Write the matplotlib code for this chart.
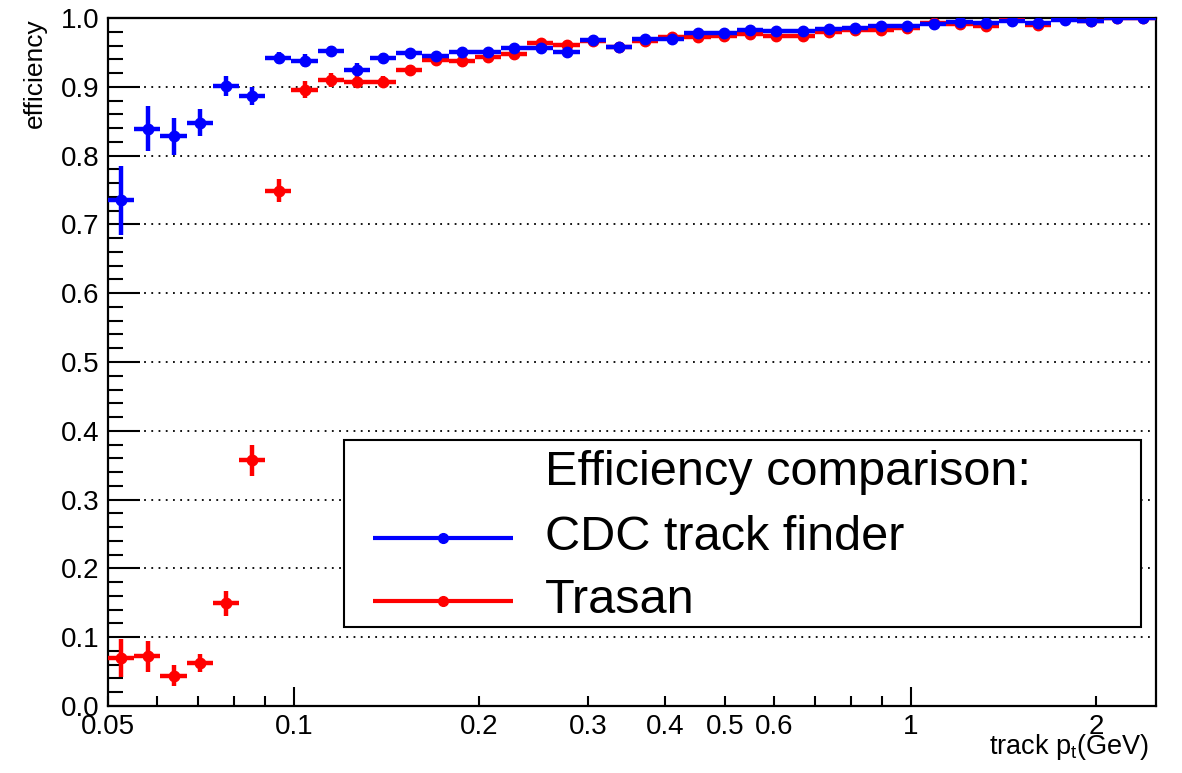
import numpy as np
import matplotlib
matplotlib.use("Agg")
import matplotlib.pyplot as plt
from matplotlib.patches import Rectangle
from matplotlib.ticker import FixedLocator, FixedFormatter, MultipleLocator, FormatStrFormatter

plt.rcParams["font.family"] = ["Liberation Sans", "DejaVu Sans"]
plt.rcParams["mathtext.fontset"] = "custom"
plt.rcParams["mathtext.rm"] = "Liberation Sans"
plt.rcParams["mathtext.it"] = "Liberation Sans:italic"

# ─── Data ───────────────────────────────────────────────────────────────────────
pt_min, pt_max, n_bins = 0.05, 2.5, 40

cdc_eff = [0.735, 0.839, 0.828, 0.848, 0.901, 0.886, 0.942, 0.938, 0.952, 0.925,
           0.942, 0.949, 0.945, 0.950, 0.950, 0.956, 0.957, 0.951, 0.968, 0.958,
           0.969, 0.969, 0.978, 0.978, 0.982, 0.981, 0.981, 0.984, 0.986, 0.989,
           0.988, 0.992, 0.994, 0.993, 0.996, 0.993, 0.997, 0.996, 1.000, 1.000]
cdc_err = [0.050, 0.033, 0.027, 0.020, 0.015, 0.013, 0.009, 0.009, 0.007, 0.009,
           0.007, 0.006, 0.006, 0.005, 0.005, 0.005, 0.005, 0.005, 0.004, 0.004,
           0.004, 0.004, 0.003, 0.003, 0.003, 0.003, 0.003, 0.003, 0.003, 0.002,
           0.002, 0.002, 0.002, 0.002, 0.002, 0.002, 0.002, 0.002, 0.000, 0.000]

trasan_eff = [0.070, 0.072, 0.044, 0.062, 0.149, 0.357, 0.749, 0.896, 0.910, 0.907,
              0.907, 0.924, 0.939, 0.938, 0.943, 0.948, 0.963, 0.961, 0.966, 0.958,
              0.966, 0.972, 0.972, 0.974, 0.977, 0.974, 0.974, 0.979, 0.982, 0.983,
              0.985, 0.993, 0.992, 0.988, 1.000, 0.990, 1.000, 0.996, 1.000, 1.000]
trasan_err = [0.028, 0.022, 0.015, 0.013, 0.018, 0.022, 0.017, 0.012, 0.010, 0.008,
              0.008, 0.007, 0.006, 0.005, 0.005, 0.005, 0.005, 0.005, 0.004, 0.004,
              0.004, 0.004, 0.003, 0.003, 0.003, 0.003, 0.003, 0.003, 0.003, 0.002,
              0.002, 0.002, 0.002, 0.002, 0.000, 0.002, 0.000, 0.002, 0.000, 0.000]

series_names = ["CDC track finder", "Trasan"]
series_colors = ["#0000ff", "#ff0000"]
legend_header = "Efficiency comparison:"

xtick_vals = [0.05, 0.1, 0.2, 0.3, 0.4, 0.5, 0.6, 1, 2]
xtick_labels = ["0.05", "0.1", "0.2", "0.3", "0.4", "0.5", "0.6", "1", "2"]
xminor_vals = [0.06, 0.07, 0.08, 0.09, 0.7, 0.8, 0.9]

# ─── Binning (log-spaced, like the ROOT histogram) ─────────────────────────────
edges = np.logspace(np.log10(pt_min), np.log10(pt_max), n_bins + 1)
centers = 0.5 * (edges[:-1] + edges[1:])
xerr = [centers - edges[:-1], edges[1:] - centers]


def yerrs(eff, err):
    eff = np.asarray(eff)
    err = np.asarray(err)
    return [err, np.minimum(err, 1.0 - eff)]


# ─── Figure ─────────────────────────────────────────────────────────────────────
fig = plt.figure(figsize=(11.82, 7.73), dpi=100)
ax = fig.add_axes([0.0914, 0.0867, 0.8866, 0.8900])

style = dict(fmt="o", markersize=7.5, elinewidth=3.2, capsize=0, linestyle="none")
ax.errorbar(centers, trasan_eff, xerr=xerr, yerr=yerrs(trasan_eff, trasan_err),
            color=series_colors[1], zorder=3, **style)
ax.errorbar(centers, cdc_eff, xerr=xerr, yerr=yerrs(cdc_eff, cdc_err),
            color=series_colors[0], zorder=4, **style)

ax.set_xscale("log")
ax.set_xlim(pt_min, pt_max)
ax.set_ylim(0.0, 1.0)

ax.xaxis.set_major_locator(FixedLocator(xtick_vals))
ax.xaxis.set_major_formatter(FixedFormatter(xtick_labels))
ax.xaxis.set_minor_locator(FixedLocator(xminor_vals))
ax.xaxis.set_minor_formatter(FixedFormatter([""] * len(xminor_vals)))
ax.yaxis.set_major_locator(MultipleLocator(0.1))
ax.yaxis.set_minor_locator(MultipleLocator(0.02))
ax.yaxis.set_major_formatter(FormatStrFormatter("%.1f"))

ax.tick_params(axis="both", which="both", direction="in", width=1.5,
               labelsize=20, top=False, right=False)
ax.tick_params(axis="y", which="major", length=23, pad=6)
ax.tick_params(axis="y", which="minor", length=11)
ax.tick_params(axis="x", which="major", length=14, pad=6)
ax.tick_params(axis="x", which="minor", length=7)
# labelled values that are not decades get short ticks, as in ROOT
for t, v in zip(ax.xaxis.get_major_ticks(), xtick_vals):
    if v not in (0.1, 1):
        t.tick1line.set_markersize(7)

for s in ax.spines.values():
    s.set_linewidth(1.6)

ax.yaxis.grid(True, which="major", color="black", linestyle=(0, (1, 3)),
              linewidth=1.3)
ax.set_axisbelow(True)

ax.text(-0.0697, 1.0, "efficiency", transform=ax.transAxes, rotation=90,
        ha="center", va="top", fontsize=19)
ax.text(0.994, -0.060, r"track p$_{\mathrm{t}}$(GeV)", transform=ax.transAxes,
        ha="right", va="center", fontsize=19.5)

# ─── Legend (ROOT TLegend look, drawn by hand) ──────────────────────────────────
lx0, lx1, ly0, ly1 = 0.2252, 0.9857, 0.1148, 0.3866
ax.add_patch(Rectangle((lx0, ly0), lx1 - lx0, ly1 - ly0, transform=ax.transAxes,
                       facecolor="white", edgecolor="black", linewidth=1.5,
                       zorder=6, clip_on=False))
row_y = [0.3401, 0.2442, 0.1526]
text_x = 0.417
ax.text(text_x, row_y[0], legend_header, transform=ax.transAxes,
        ha="left", va="center", fontsize=35, zorder=7)
for y, name, col in zip(row_y[1:], series_names, series_colors):
    ax.plot([0.2529, 0.3865], [y, y], transform=ax.transAxes, color=col,
            lw=3.0, solid_capstyle="butt", zorder=7, clip_on=False)
    ax.plot([0.3197], [y], transform=ax.transAxes, color=col, marker="o",
            markersize=7, zorder=7, clip_on=False)
    ax.text(text_x, y, name, transform=ax.transAxes,
            ha="left", va="center", fontsize=35, zorder=7)

fig.savefig("out.png", dpi=100)
